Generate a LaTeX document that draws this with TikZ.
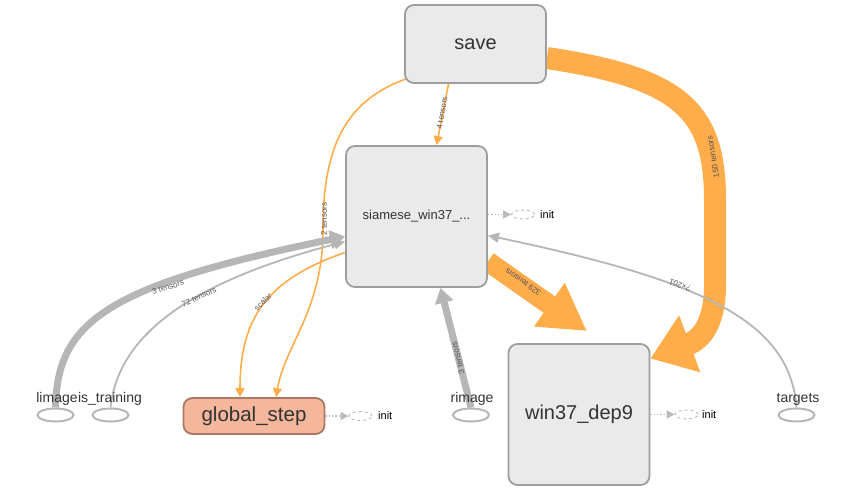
\documentclass[tikz,border=0pt]{standalone}
\usepackage{fontspec}
\setmainfont{Liberation Sans}
\usepackage{xcolor}
\definecolor{opfill}{RGB}{234,234,234}
\definecolor{opdraw}{RGB}{158,158,158}
\definecolor{varfill}{RGB}{244,183,155}
\definecolor{vardraw}{RGB}{168,121,102}
\definecolor{refcol}{RGB}{255,172,75}
\definecolor{datacol}{RGB}{182,182,182}
\definecolor{textcol}{RGB}{51,51,51}
\definecolor{lblcol}{RGB}{85,85,85}
\usetikzlibrary{arrows.meta,shapes.geometric,calc,backgrounds}

\begin{document}
\begin{tikzpicture}[x=1pt, y=-1pt,
  opbox/.style={rectangle, rounded corners=9pt, draw=opdraw, fill=opfill, line width=1.8pt,
                minimum width=141pt, minimum height=141pt, inner sep=0pt, text=textcol,
                font=\fontsize{20}{24}\selectfont},
  varbox/.style={rectangle, rounded corners=9pt, draw=vardraw, fill=varfill, line width=1.8pt,
                minimum width=141pt, minimum height=36pt, inner sep=0pt, text=textcol,
                font=\fontsize{20.5}{24}\selectfont},
  phold/.style={ellipse, draw=datacol, fill=white, line width=2pt,
                minimum width=36pt, minimum height=13pt, inner sep=0pt},
  inpt/.style={font=\fontsize{14}{16}\selectfont, text=textcol, inner sep=0pt, anchor=base},
  initell/.style={ellipse, draw=gray!55, dashed, line width=0.9pt, fill=white,
                  minimum width=23pt, minimum height=9pt, inner sep=0pt},
  initlbl/.style={font=\fontsize{11}{13}\selectfont, inner sep=0pt, anchor=west},
  initarr/.style={dotted, line width=1.3pt, draw=gray!55, -{Triangle[length=8pt,width=8pt]}},
  refarr/.style={draw=refcol, line width=1.6pt, -{Triangle[length=9pt,width=9pt]}},
  bigref/.style={draw=refcol, line width=22pt, -{Triangle[length=42pt,width=58pt]}},
  dataarr/.style={draw=datacol, line width=1.8pt, -{Triangle[length=11pt,width=10pt]}},
  datathick/.style={draw=datacol, line width=7pt, -{Triangle[length=15pt,width=18pt]}},
  elbl/.style={font=\fontsize{8}{9}\selectfont, text=lblcol, inner sep=0pt}
]
\useasboundingbox (0,0) rectangle (850,492);

%% ops
\node[opbox, minimum height=78pt] (save) at (475.5,44) {save};
\node[opbox, font=\fontsize{13}{16}\selectfont] (siamese) at (416.5,216.5) {siamese\_win37\_...};
\node[opbox] (win37) at (579,414.5) {win37\_dep9};
\node[varbox] (gstep) at (254,416) {global\_step};

%% placeholders
\node[phold] (limage)  at (55.5,415) {};
\node[phold] (istrain) at (110.5,415) {};
\node[phold] (rimage)  at (471,415) {};
\node[phold] (targets) at (796.5,415) {};
\node[inpt] (limagelbl)  at (57,402)  {limage};
\node[inpt] (istrainlbl) at (110,402) {is\_training};
\node[inpt] (rimagelbl)  at (472,402) {rimage};
\node[inpt] (targetslbl) at (798,402) {targets};

%% init
\node[initell] (sinit) at (523,214.5) {};
\node[initlbl] (sinitlbl) at (540,214.5) {init};
\node[initell] (ginit) at (360.5,416) {};
\node[initlbl] (ginitlbl) at (378,416) {init};
\node[initell] (winit) at (686.5,414.5) {};
\node[initlbl] (winitlbl) at (702,414.5) {init};
\draw[initarr] (siamese.east |- sinit) -- (sinit.west);
\draw[initarr] (gstep.east |- ginit) -- (ginit.west);
\draw[initarr] (win37.east |- winit) -- (winit.west);

%% edges
\begin{scope}[on background layer]
\draw[refarr] ($(save.south)+(-27,0)$) -- ($(siamese.north)+(20,0)$);
\draw[refarr] ($(save.south west)+(5,-6)$) .. controls (343,100) and (323,150) .. (323,230)
      .. controls (323,310) and (285,345) .. ($(gstep.north)+(22,0)$);
\draw[refarr] ($(siamese.west)+(0,36)$) .. controls (265,280) and (240,320) .. ($(gstep.north)+(-14,0)$);
\draw[bigref] ($(save.east)+(0,14)$) .. controls (680,78) and (715,110) .. (715,200) -- (715,285)
      .. controls (715,325) and (700,340) .. ($(win37.east)+(0,-56)$);
\draw[bigref, line width=20pt, -{Triangle[length=46pt,width=50pt]}]
      ($(siamese.east)+(0,45)$) -- ($(win37.north)+(8,-12)$);
\draw[datathick] (limage.north) .. controls (57,320) and (110,285) .. ($(siamese.west)+(0,20)$);
\draw[dataarr] (istrain.north) .. controls (118,340) and (180,285) .. ($(siamese.west)+(0,25)$);
\draw[datathick] (rimage.north) -- ($(siamese.south)+(24,0)$);
\draw[dataarr] (targets.north) .. controls (790,320) and (700,280) .. ($(siamese.east)+(0,19)$);
\end{scope}

%% edge labels
\node[elbl, rotate=80]  (l4t)  at (442,113) {4 tensors};
\node[elbl, rotate=90]  (l2t)  at (324,219) {2 tensors};
\node[elbl, rotate=45]  (lsc)  at (263,302) {scalar};
\node[elbl, rotate=100] (l150) at (713,157) {150 tensors};
\node[elbl, rotate=145] (l329) at (523,282) {329 tensors};
\node[elbl, rotate=17]  (l3l)  at (168,287) {3 tensors};
\node[elbl, rotate=25]  (l72)  at (199,297) {72 tensors};
\node[elbl, rotate=104] (l3r)  at (458,358) {3 tensors};
\node[elbl, rotate=160] (ltg)  at (680,285) {?×201};
\end{tikzpicture}
\end{document}
